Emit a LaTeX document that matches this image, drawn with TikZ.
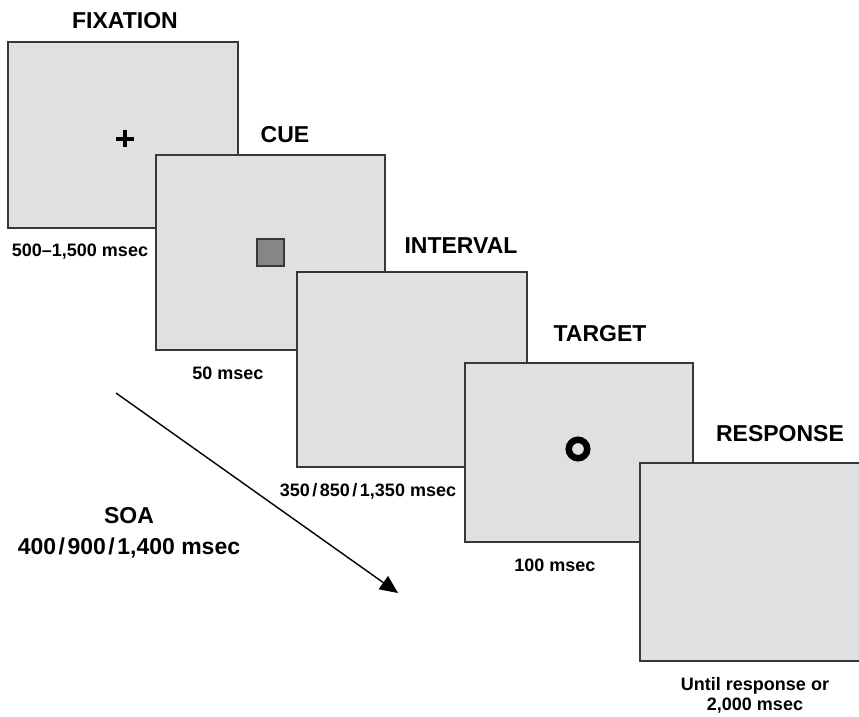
\documentclass[tikz,border=0pt]{standalone}
\usepackage{fontspec}
\setmainfont{Liberation Sans}
\usetikzlibrary{arrows.meta}
\definecolor{screenfill}{HTML}{E0E0E0}
\definecolor{screenline}{HTML}{383838}
\definecolor{cuefill}{HTML}{868686}
\newcommand{\myslash}{\kern2.5pt/\kern2.5pt}
\begin{document}
\begin{tikzpicture}[x=1pt,y=-1pt,
  screen/.style={draw=screenline, fill=screenfill, line width=1.5pt, rectangle, inner sep=0pt},
  titletext/.style={font=\fontsize{23}{26}\selectfont\bfseries, inner sep=0pt},
  durtext/.style={font=\fontsize{18}{21}\selectfont\bfseries, inner sep=0pt, align=center},
  soatext/.style={font=\fontsize{23}{27}\selectfont\bfseries, inner sep=0pt, align=center}]
\useasboundingbox (0,0) rectangle (859,716);
\clip (0,0) rectangle (859,716);
% screens
\node[screen, minimum width=230pt, minimum height=186pt] (fix) at (123,135) {};
\node[screen, minimum width=229pt, minimum height=195pt] (cue) at (270.5,252.5) {};
\node[screen, minimum width=230pt, minimum height=195pt] (int) at (412,369.5) {};
\node[screen, minimum width=228pt, minimum height=179pt] (tar) at (579,452.5) {};
\node[screen, minimum width=230pt, minimum height=198pt] (res) at (755,562) {};
% stimuli
\fill[black] (115.5,136.5) rectangle (133.5,141);
\fill[black] (122.5,130) rectangle (127,147);
\node[draw=screenline, fill=cuefill, line width=1.2pt, minimum size=27pt, inner sep=0pt] (sq) at (270.5,252.5) {};
\node[draw=black, line width=6.5pt, circle, minimum size=18.5pt, inner sep=0pt] (ring) at (578,449) {};
% titles
\node[titletext] (tfix) at (125,21) {FIXATION};
\node[titletext] (tcue) at (285,135) {CUE};
\node[titletext] (tint) at (461,246) {INTERVAL};
\node[titletext] (ttar) at (600,334) {TARGET};
\node[titletext] (tres) at (780,434) {RESPONSE};
% durations
\node[durtext] (dfix) at (80,251.5) {500--1,500 msec};
\node[durtext] (dcue) at (228,373) {50 msec};
\node[durtext] (dint) at (368,491.5) {350\myslash850\myslash1,350 msec};
\node[durtext] (dtar) at (555,565) {100 msec};
\node[durtext] (dres) at (755,695) {Until response or\\[-1pt]2,000 msec};
% SOA
\node[soatext] (soa) at (129,516) {SOA};
\node[soatext] (soat) at (129,547.5) {400\myslash900\myslash1,400 msec};
\coordinate (a1) at (116,393);
\coordinate (a2) at (398,593);
\draw[line width=1.4pt, -{Triangle[length=18pt,width=16pt]}] (a1) -- (a2);
\end{tikzpicture}
\end{document}
